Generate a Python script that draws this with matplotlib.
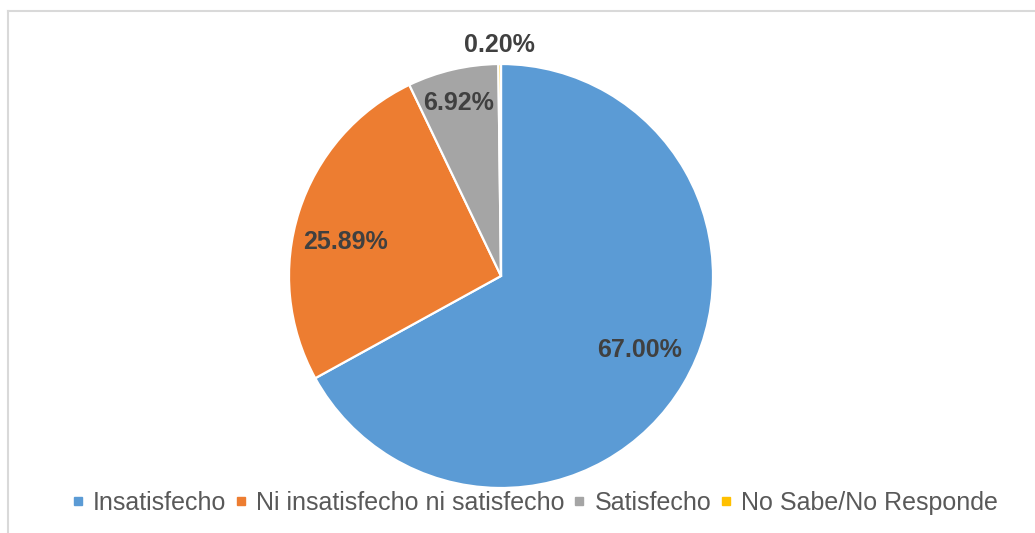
import numpy as np
import matplotlib
matplotlib.use("Agg")
import matplotlib.pyplot as plt
from matplotlib.lines import Line2D

categories = ["Insatisfecho", "Ni insatisfecho ni satisfecho", "Satisfecho", "No Sabe/No Responde"]
values = [67.00, 25.89, 6.92, 0.20]
labels = ["67.00%", "25.89%", "6.92%", "0.20%"]
colors = ["#5B9BD5", "#ED7D31", "#A5A5A5", "#FFC000"]
label_radius = [0.74, 0.75, 0.84, 1.09]
label_angle_shift = [2.6, 5.5, 0.5, 0.0]

plt.rcParams['font.family'] = ['Liberation Sans', 'DejaVu Sans']

W, H = 1035, 533
fig = plt.figure(figsize=(W / 100, H / 100), dpi=100)
fig.patch.set_facecolor("white")

cx, cy, r = 501, 276, 212
ax = fig.add_axes([(cx - r) / W, (H - cy - r) / H, 2 * r / W, 2 * r / H])
wedges, _ = ax.pie(values, colors=colors, startangle=90, counterclock=False,
                   radius=1.0, wedgeprops=dict(edgecolor="white", linewidth=1.6))
ax.set_xlim(-1, 1)
ax.set_ylim(-1, 1)
ax.set_aspect("equal")
ax.axis("off")

for w, lab, rr, sh in zip(wedges, labels, label_radius, label_angle_shift):
    ang = np.deg2rad((w.theta1 + w.theta2) / 2 + sh)
    ax.text(rr * np.cos(ang), rr * np.sin(ang), lab, ha="center", va="center",
            fontsize=18, fontweight="bold", color="#404040", clip_on=False)

handles = [Line2D([], [], marker="s", linestyle="none", markersize=5.5,
                  markerfacecolor=c, markeredgecolor=c) for c in colors]
fig.legend(handles, categories, loc="center", ncol=4,
           bbox_to_anchor=(534 / W, 1 - 503 / H), frameon=False,
           fontsize=18, labelcolor="#595959", handlelength=0.6,
           handletextpad=0.3, columnspacing=0.3, borderpad=0)

fig.add_artist(Line2D([8 / W, 1.0], [1 - 11 / H, 1 - 11 / H], color="#D9D9D9", lw=1.5,
                      transform=fig.transFigure))
fig.add_artist(Line2D([8 / W, 8 / W], [0, 1 - 11 / H], color="#D9D9D9", lw=1.5,
                      transform=fig.transFigure))

fig.savefig("out.png", dpi=100, facecolor="white")
